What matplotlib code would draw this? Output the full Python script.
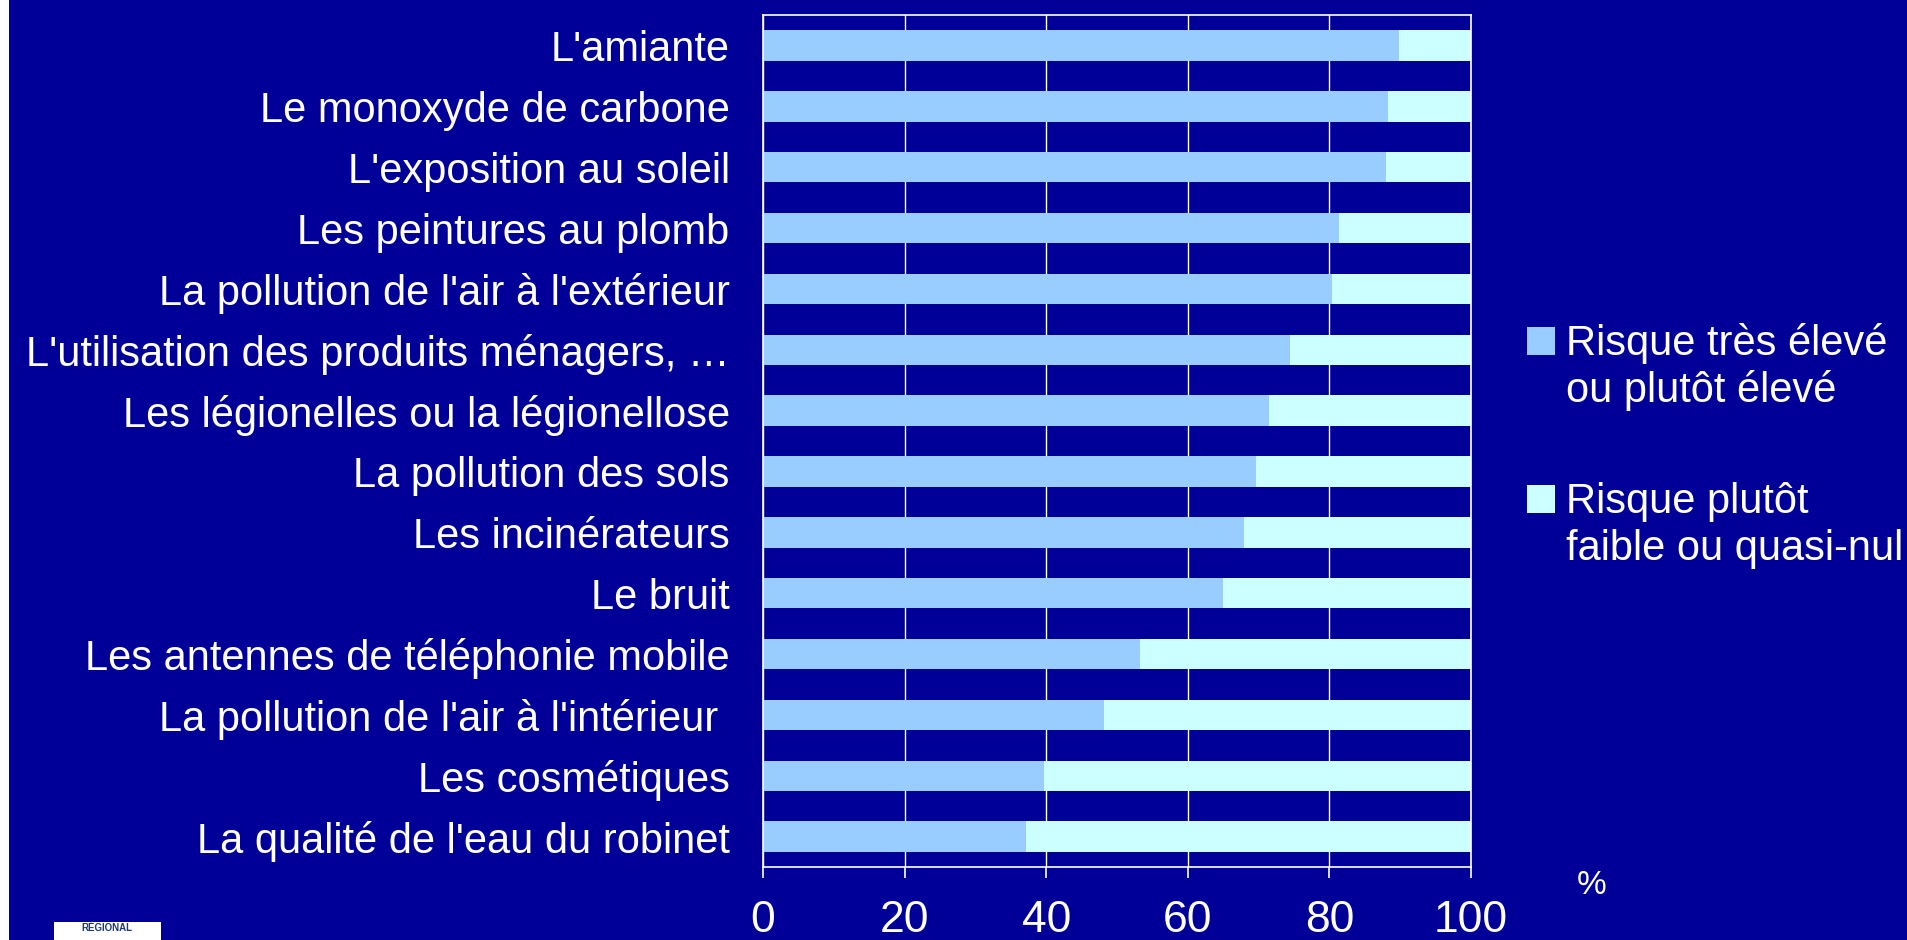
import matplotlib
matplotlib.use("Agg")
import matplotlib.pyplot as plt
from matplotlib.patches import Rectangle

plt.rcParams['font.family'] = ['Liberation Sans', 'DejaVu Sans']

# categories, top to bottom
categories = [
    "L'amiante",
    "Le monoxyde de carbone",
    "L'exposition au soleil",
    "Les peintures au plomb",
    "La pollution de l'air à l'extérieur",
    "L'utilisation des produits ménagers, …",
    "Les légionelles ou la légionellose",
    "La pollution des sols",
    "Les incinérateurs",
    "Le bruit",
    "Les antennes de téléphonie mobile",
    "La pollution de l'air à l'intérieur ",
    "Les cosmétiques",
    "La qualité de l'eau du robinet",
]
risque_eleve = [89.9, 88.3, 88.0, 81.3, 80.4, 74.4, 71.5, 69.6, 68.0, 65.0, 53.3, 48.1, 39.7, 37.1]
risque_faible = [100 - v for v in risque_eleve]
x_ticks = [0, 20, 40, 60, 80, 100]
legend_labels = [("Risque très élevé", "ou plutôt élevé"),
                 ("Risque plutôt", "faible ou quasi-nul")]

bg = '#000099'
c_eleve = '#99CCFF'
c_faible = '#CCFFFF'

W, H = 1908, 940
fig = plt.figure(figsize=(W / 100, H / 100), dpi=100, facecolor=bg)
ax = fig.add_axes([763 / W, 1 - 867 / H, (1471 - 763) / W, (867 - 15) / H])
ax.set_facecolor(bg)

y = list(range(len(categories)))
ax.barh(y, risque_eleve, height=0.5, color=c_eleve, zorder=2)
ax.barh(y, risque_faible, left=risque_eleve, height=0.5, color=c_faible, zorder=2)

ax.set_xlim(0, 100)
ax.set_ylim(len(categories) - 0.5, -0.5)
ax.set_xticks(x_ticks)
ax.set_xticklabels([str(t) for t in x_ticks], fontsize=32, color='white')
ax.set_yticks(y)
ax.set_yticklabels(categories, fontsize=30, color='white')
ax.tick_params(axis='y', length=0, pad=24)
ax.tick_params(axis='x', length=8, width=1.2, color='white', pad=16, direction='out')

ax.grid(axis='x', color='white', linewidth=1.0, zorder=1)
ax.set_axisbelow(True)
for s in ax.spines.values():
    s.set_color('white')
    s.set_linewidth(1.2)

fig.text(1592 / W, 1 - 886 / H, '%', color='white', fontsize=24, ha='center', va='center')

# legend drawn by hand so the swatch sits on the first line
legend_rows = [(327, 355, 402), (485, 513, 560)]
for (top, base1, base2), color, (l1, l2) in zip(legend_rows, [c_eleve, c_faible], legend_labels):
    fig.add_artist(Rectangle((1527 / W, 1 - (top + 28) / H), 28 / W, 28 / H,
                             transform=fig.transFigure, facecolor=color, edgecolor='none'))
    fig.text(1566 / W, 1 - base1 / H, l1, color='white', fontsize=30, va='baseline', ha='left')
    fig.text(1566 / W, 1 - base2 / H, l2, color='white', fontsize=30, va='baseline', ha='left')

# white strip on the left and bit of logo at the bottom
fig.add_artist(Rectangle((0, 0), 9 / W, 1, transform=fig.transFigure,
                         facecolor='white', edgecolor='none'))
fig.add_artist(Rectangle((54 / W, 0), 107 / W, 18 / H, transform=fig.transFigure,
                         facecolor='white', edgecolor='none'))
fig.text(107 / W, 1 - 928 / H, 'RÉGIONAL', color='#1a3a7a', fontsize=7,
         fontweight='bold', ha='center', va='center')

fig.savefig('out.png', dpi=100, facecolor=bg)
